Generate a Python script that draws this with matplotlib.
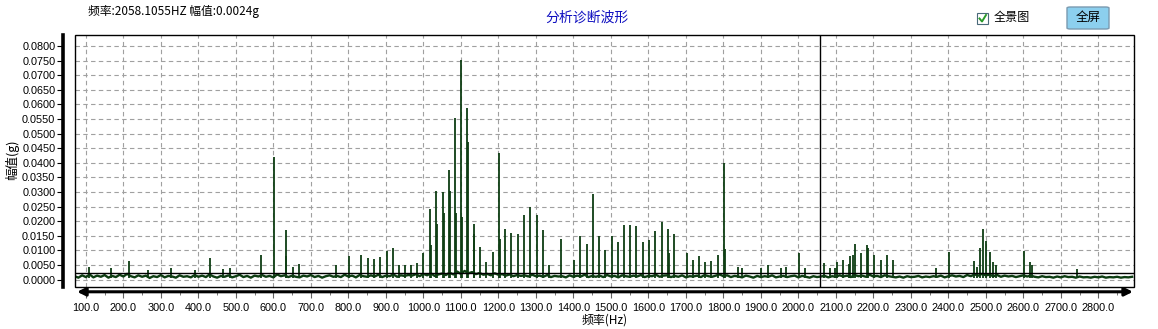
import numpy as np
import matplotlib
matplotlib.use("Agg")
import matplotlib.pyplot as plt
from matplotlib.patches import Rectangle, FancyBboxPatch
from matplotlib.lines import Line2D
from matplotlib.ticker import FormatStrFormatter, MultipleLocator

plt.rcParams['font.family'] = ['Liberation Sans', 'Noto Sans CJK SC', 'DejaVu Sans']

# cursor readout
CURSOR_HZ = 2058.1055
CURSOR_G = 0.0024

# spectrum peaks (Hz, g)
peak_hz = [109, 166, 215, 266, 328, 391, 431, 466, 485, 567, 601, 633, 634, 653,
           668, 766, 801, 834, 851, 868, 885, 902, 918, 935, 951, 968, 984,
           1000, 1018, 1021, 1034, 1037, 1051, 1054, 1068, 1071, 1084, 1087,
           1101, 1104, 1117, 1119, 1134, 1136, 1151, 1168, 1185, 1201, 1205,
           1218, 1234, 1251, 1268, 1285, 1302, 1318, 1335, 1368, 1401, 1418,
           1435, 1451, 1468, 1485, 1502, 1518, 1535, 1551, 1568, 1585, 1601,
           1618, 1635, 1651, 1655, 1669, 1702, 1719, 1735, 1752, 1768, 1786,
           1802, 1805, 1840, 1850, 1899, 1919, 1953, 1967, 2001, 2017, 2068,
           2084, 2097, 2103, 2118, 2135, 2137, 2145, 2152, 2168, 2184, 2186,
           2202, 2219, 2235, 2251, 2368, 2401, 2468, 2475, 2485, 2491, 2501,
           2510, 2518, 2526, 2602, 2617, 2624, 2744]
peak_g = [0.0045, 0.0041, 0.0065, 0.0034, 0.0041, 0.0034, 0.0073, 0.0037, 0.0040,
          0.0086, 0.0421, 0.0080, 0.0171, 0.0045,
          0.0055, 0.0051, 0.0080, 0.0083, 0.0073, 0.0070, 0.0077, 0.0097, 0.0109,
          0.0050, 0.0050, 0.0050, 0.0057,
          0.0092, 0.0242, 0.0120, 0.0305, 0.0192, 0.0299, 0.0228, 0.0376, 0.0305,
          0.0553, 0.0227, 0.0754, 0.0216, 0.0588, 0.0472, 0.0155, 0.0190,
          0.0111, 0.0060, 0.0094, 0.0435, 0.0140,
          0.0174, 0.0160, 0.0155, 0.0222, 0.0250, 0.0222, 0.0170, 0.0052,
          0.0138, 0.0068, 0.0149,
          0.0123, 0.0294, 0.0151, 0.0100, 0.0151, 0.0130, 0.0189, 0.0189,
          0.0185, 0.0130, 0.0136,
          0.0168, 0.0196, 0.0174, 0.0090, 0.0155, 0.0092, 0.0069, 0.0081, 0.0060,
          0.0063, 0.0084,
          0.0399, 0.0106, 0.0045, 0.0040, 0.0040, 0.0052, 0.0040, 0.0045, 0.0092,
          0.0040, 0.0057,
          0.0040, 0.0040, 0.0060, 0.0069, 0.0055, 0.0081, 0.0083, 0.0123, 0.0091,
          0.0119, 0.0110,
          0.0085, 0.0066, 0.0083, 0.0066, 0.0040, 0.0094, 0.0064, 0.0045, 0.0108,
          0.0174, 0.0134,
          0.0094, 0.0060, 0.0050, 0.0098, 0.0060, 0.0050, 0.0038]

# noise floor, 70 Hz .. 2890 Hz every 10 Hz, in 1e-4 g
floor_start_hz = 70
floor_step_hz = 10
floor_e4 = [
    12, 7, 15, 9, 18, 8, 14, 10, 16, 7,
    13, 9, 17, 11, 20, 12, 8, 15, 10, 14,
    6, 12, 9, 16, 8, 13, 11, 7, 15, 10,
    12, 8, 16, 10, 14, 9, 18, 11, 7, 13,
    10, 15, 8, 12, 17, 9, 13, 7, 14, 11,
    16, 10, 13, 8, 18, 12, 15, 9, 14, 10,
    8, 14, 11, 16, 9, 13, 7, 12, 15, 10,
    13, 9, 17, 11, 14, 8, 16, 12, 10, 15,
    11, 17, 9, 14, 12, 18, 10, 15, 13, 16,
    14, 19, 12, 20, 15, 22, 13, 18, 21, 16,
    24, 18, 28, 20, 30, 22, 26, 19, 23, 17,
    20, 15, 22, 17, 19, 14, 18, 12, 16, 13,
    15, 11, 17, 12, 14, 10, 16, 9, 13, 11,
    12, 8, 15, 10, 14, 11, 17, 9, 13, 10,
    14, 9, 16, 11, 13, 8, 15, 12, 10, 14,
    11, 16, 9, 13, 12, 17, 10, 14, 15, 9,
    13, 10, 15, 8, 12, 11, 14, 9, 16, 12,
    10, 14, 18, 12, 15, 9, 13, 11, 8, 14,
    11, 7, 13, 9, 12, 10, 15, 8, 11, 13,
    9, 12, 14, 8, 13, 10, 7, 12, 9, 11,
    13, 8, 12, 10, 15, 11, 14, 9, 16, 12,
    14, 10, 17, 11, 13, 9, 15, 12, 10, 8,
    11, 7, 12, 9, 10, 13, 8, 11, 9, 12,
    10, 14, 8, 12, 15, 11, 13, 9, 16, 12,
    18, 14, 20, 15, 17, 12, 16, 10, 14, 11,
    13, 9, 12, 15, 11, 14, 10, 8, 12, 9,
    10, 7, 11, 8, 12, 9, 10, 7, 11, 8,
    9, 7, 10, 8, 11, 7, 9, 8, 10, 7,
    9, 8, 10,
]

x_ticks = [100 * k for k in range(1, 29)]

GREEN = '#0d3d12'

fig = plt.figure(figsize=(11.58, 3.29), dpi=100)
W, H = 1158, 329
PX = 72 / 100  # points per pixel
ax = fig.add_axes([75 / W, 42 / H, 1059 / W, 252 / H])

floor_hz = floor_start_hz + floor_step_hz * np.arange(len(floor_e4))
ax.plot(floor_hz, np.array(floor_e4) * 1e-4, color=GREEN, lw=1.7, zorder=3)
ax.vlines(peak_hz, 0.0006, peak_g, color=GREEN, lw=1.3, zorder=3)

ax.set_xlim(71, 2895)
ax.set_ylim(-0.0025, 0.0838)

# cursor
ax.axvline(CURSOR_HZ, color='black', lw=1.0, zorder=4)
ax.axhline(CURSOR_G, color='black', lw=1.0, zorder=4)

# grid
ax.set_xticks(x_ticks)
ax.yaxis.set_major_locator(MultipleLocator(0.005))
ax.xaxis.set_minor_locator(MultipleLocator(50))
ax.grid(True, which='major', color='#a0a0a0', ls=(0, (4, 3)), lw=0.8, zorder=1)

# frame box
ax.add_patch(Rectangle((0, 0), 1, 1, transform=ax.transAxes, fill=False,
                       ec='black', lw=1.0, clip_on=False, zorder=6))
for s in ['top', 'right']:
    ax.spines[s].set_visible(False)
ax.spines['left'].set_position(('outward', 12 * PX))
ax.spines['left'].set_linewidth(2.6)
ax.spines['bottom'].set_position(('outward', 5 * PX))
ax.spines['bottom'].set_color('none')

ax.yaxis.set_major_formatter(FormatStrFormatter('%.4f'))
ax.xaxis.set_major_formatter(FormatStrFormatter('%.1f'))
ax.tick_params(axis='y', direction='out', length=4, width=0.8, labelsize=7.8, pad=1.5)
ax.tick_params(axis='x', which='major', direction='out', length=4, width=0.8,
               labelsize=7.8, pad=4, color='#606060')
ax.tick_params(axis='x', which='minor', direction='out', length=2, width=0.6,
               color='#606060')

# double-headed axis arrow
ax.annotate('', xy=(0.002, -0.019), xytext=(0.999, -0.019),
            xycoords='axes fraction', textcoords='axes fraction',
            annotation_clip=False,
            arrowprops=dict(arrowstyle='<|-|>', color='black', lw=2.2,
                            mutation_scale=12, shrinkA=0, shrinkB=0))

cjk = ['Noto Sans CJK SC', 'DejaVu Sans']
fig.text(605 / W, 1 - 320 / H, '频率(Hz)', ha='center', va='center', fontsize=8.6,
         family=cjk)
fig.text(12 / W, 1 - 160 / H, '幅值(g)', ha='center', va='center', fontsize=9,
         rotation=90, family=cjk)

fig.text(88 / W, 1 - 11 / H, '频率:2058.1055HZ 幅值:0.0024g', ha='left',
         va='center', fontsize=8.5, family=cjk)
fig.text(587 / W, 1 - 18 / H, '分析诊断波形', ha='center', va='center',
         fontsize=10, color='#1010c0', family=cjk)

# checkbox
fig.add_artist(Rectangle((977 / W, 1 - 24 / H), 11 / W, 11 / H,
                         transform=fig.transFigure, fc='white', ec='#4a6a7a', lw=0.8))
fig.add_artist(Line2D([979.5 / W, 982 / W, 986 / W],
                      [1 - 18.5 / H, 1 - 21.5 / H, 1 - 15 / H],
                      transform=fig.transFigure, color='#2a9a2a', lw=1.4))
fig.text(994 / W, 1 - 18 / H, '全景图', ha='left', va='center', fontsize=8.7,
         family=cjk)

# button
fig.add_artist(FancyBboxPatch((1067 / W, 1 - 29 / H), 42 / W, 22 / H,
                              boxstyle='round,pad=0,rounding_size=0.003',
                              transform=fig.transFigure, fc='#8ccfee',
                              ec='#7a9ab0', lw=1.0))
fig.text(1088 / W, 1 - 17 / H, '全屏', ha='center', va='center', fontsize=9,
         family=cjk)

fig.savefig('out.png', dpi=100)
